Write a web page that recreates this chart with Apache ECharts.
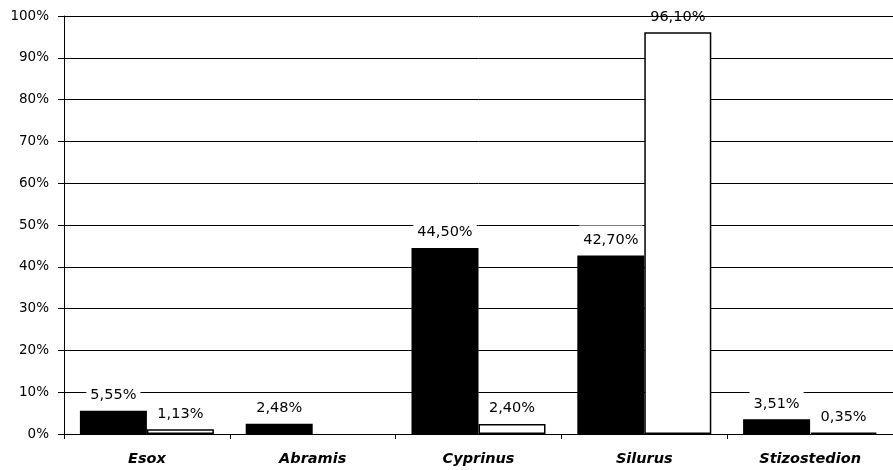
<!DOCTYPE html>
<html>
<head>
<meta charset="utf-8">
<script src="https://cdn.jsdelivr.net/npm/echarts@6/dist/echarts.min.js"></script>
<style>
  html, body { margin: 0; padding: 0; background: #fff; }
  #chart { width: 893px; height: 470px; }
</style>
</head>
<body>
<div id="chart"></div>
<script>
// Genera and their shares (%) in two series
const categories = ['Esox', 'Abramis', 'Cyprinus', 'Silurus', 'Stizostedion'];
const seriesA = [5.55, 2.48, 44.50, 42.70, 3.51];
const seriesB = [1.13, null, 2.40, 96.10, 0.35];
const yTicks = [0, 10, 20, 30, 40, 50, 60, 70, 80, 90, 100];

const fontFamily = '"DejaVu Sans", Verdana, sans-serif';
const fmt = v => v.toFixed(2).replace('.', ',') + '%';

const labelStyle = {
  show: true,
  position: 'top',
  distance: 6,
  color: '#000',
  fontFamily: fontFamily,
  fontSize: 14.5,
  backgroundColor: '#fff',
  padding: [7, 4, 2, 4],
  formatter: p => (p.value == null ? '' : fmt(p.value))
};

// Labels that reach the top border keep a transparent box
const toItems = arr => arr.map(v => (v != null && v > 90)
  ? { value: v, label: { backgroundColor: 'transparent' } }
  : v);

const chart = echarts.init(document.getElementById('chart'), null, { renderer: 'canvas' });
chart.setOption({
  animation: false,
  backgroundColor: '#fff',
  grid: { left: 64, top: 16, width: 835, height: 418, containLabel: false },
  xAxis: {
    type: 'category',
    data: categories,
    axisLine: { lineStyle: { color: '#000', width: 1 } },
    axisTick: { show: true, alignWithLabel: false, length: 5, lineStyle: { color: '#000' } },
    axisLabel: {
      color: '#000', fontFamily: fontFamily, fontSize: 14.5,
      fontWeight: 'bold', fontStyle: 'italic', margin: 18
    }
  },
  yAxis: {
    type: 'value',
    min: yTicks[0],
    max: yTicks[yTicks.length - 1],
    interval: 10,
    axisLine: { show: true, lineStyle: { color: '#000', width: 1 } },
    axisTick: { show: true, length: 6, lineStyle: { color: '#000' } },
    splitLine: { show: true, lineStyle: { color: '#000', width: 1 } },
    axisLabel: {
      color: '#000', fontFamily: fontFamily, fontSize: 13.5, margin: 15,
      formatter: v => v + '%'
    }
  },
  series: [
    {
      type: 'bar',
      data: toItems(seriesA),
      barWidth: 67,
      barGap: '0%',
      itemStyle: { color: '#000' },
      label: labelStyle,
      z: 3
    },
    {
      type: 'bar',
      data: toItems(seriesB),
      barWidth: 67,
      barGap: '0%',
      itemStyle: { color: '#fff', borderColor: '#000', borderWidth: 1.5 },
      label: labelStyle,
      z: 3
    }
  ]
});
</script>
</body>
</html>
